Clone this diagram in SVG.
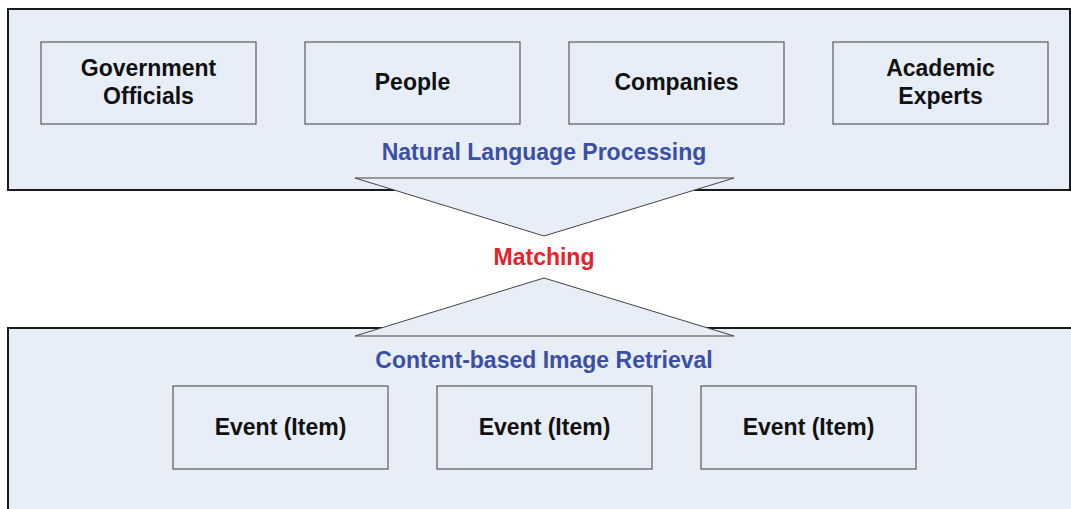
<svg xmlns="http://www.w3.org/2000/svg" width="1071" height="509" viewBox="0 0 1071 509">
<style>
.panel{fill:#e8eef7;stroke:#1a1a1a;stroke-width:2}
.box{fill:#e8eef7;stroke:#5a5a5a;stroke-width:1.2}
.tri{fill:#e8eef7;stroke:#444;stroke-width:1}
.t{font-family:"Liberation Sans",Arial,sans-serif;font-weight:bold;font-size:23px;fill:#111;text-anchor:middle}
.lbl{font-family:"Liberation Sans",Arial,sans-serif;font-weight:bold;font-size:23px;fill:#3a4fa8;text-anchor:middle}
.red{fill:#e8202a}
</style>
<rect width="1071" height="509" fill="#fff"/>
<g id="nlp">
<rect class="panel" x="8" y="9" width="1062" height="181"/>
<text class="lbl" x="544" y="160">Natural Language Processing</text>
</g>
<g id="cbir">
<rect class="panel" x="8" y="328" width="1070" height="200"/>
<text class="lbl" x="544" y="368">Content-based Image Retrieval</text>
</g>
<g id="connectors">
<polygon class="tri" points="355,178 734,178 544,236"/>
<polygon class="tri" points="355,336 734,336 544,278"/>
</g>
<g id="matching"><text class="t red" x="544" y="265">Matching</text></g>
<g id="gov"><rect class="box" x="41" y="42" width="215" height="82"/><text class="t" x="148.5" y="76">Government</text><text class="t" x="148.5" y="104">Officials</text></g>
<g id="people"><rect class="box" x="305" y="42" width="215" height="82"/><text class="t" x="412.5" y="90">People</text></g>
<g id="companies"><rect class="box" x="569" y="42" width="215" height="82"/><text class="t" x="676.5" y="90">Companies</text></g>
<g id="academic"><rect class="box" x="833" y="42" width="215" height="82"/><text class="t" x="940.5" y="76">Academic</text><text class="t" x="940.5" y="104">Experts</text></g>
<g id="event1"><rect class="box" x="173" y="386" width="215" height="83"/><text class="t" x="280.5" y="435">Event (Item)</text></g>
<g id="event2"><rect class="box" x="437" y="386" width="215" height="83"/><text class="t" x="544.5" y="435">Event (Item)</text></g>
<g id="event3"><rect class="box" x="701" y="386" width="215" height="83"/><text class="t" x="808.5" y="435">Event (Item)</text></g>
</svg>
